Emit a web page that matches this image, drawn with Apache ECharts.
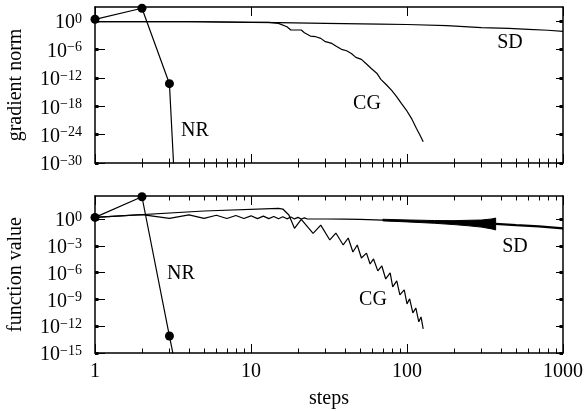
<!DOCTYPE html>
<html><head><meta charset="utf-8">
<script src="https://cdn.jsdelivr.net/npm/echarts@6/dist/echarts.min.js"></script>
<style>html,body{margin:0;padding:0;background:#fff}#c{width:585px;height:411px}</style>
</head><body><div id="c"></div>
<script>
// ---------- tick values ----------
const xMajorTicks = [1, 10, 100, 1000];
const xMinorTicks = [2,3,4,5,6,7,8,9,20,30,40,50,60,70,80,90,200,300,400,500,600,700,800,900];
const gradTicks = [1e-30, 1e-24, 1e-18, 1e-12, 1e-6, 1];
const funcTicks = [1e-15, 1e-12, 1e-9, 1e-6, 1e-3, 1];
const gradRange = [1e-30, 1e3];
const funcRange = [1e-15, 400];

// ---------- Newton-Raphson ----------
const nrSteps = [1, 2, 3, 4];
const nrGrad = [2.5, 540, 6e-14, 1e-93];
const nrFunc = [1.6, 330, 8e-14, 1e-24];

// ---------- steepest descent, gradient norm ----------
const sdGradSteps = [1, 2, 4, 7, 10, 15, 30, 67, 100, 180, 300, 450, 600, 800, 1000];
const sdGrad = [0.79, 0.79, 0.77, 0.66, 0.58, 0.5, 0.36, 0.25, 0.2, 0.11, 0.045, 0.03, 0.019, 0.012, 0.0071];

// ---------- conjugate gradient, gradient norm ----------
const cgGradSteps = [1, 5, 10, 13, 15, 17, 18, 21, 22, 24, 26, 28, 30, 33, 35, 38, 41, 44, 47, 51, 55, 59, 64, 68, 74, 80, 86, 92, 99, 107, 115, 121, 127];
const cgGrad = [0.79, 0.75, 0.6, 0.55, 0.35, 0.068, 0.0135, 0.0135, 3.7e-3, 7.2e-4, 5.2e-4, 2.3e-4, 4.6e-5, 2.0e-5, 5.5e-6, 1.1e-6, 5.6e-7, 1.5e-7, 2.2e-8, 8.3e-9, 8.5e-10, 1.0e-10, 1e-11, 5e-13, 3.2e-14, 2e-15, 1e-16, 4e-18, 1.6e-19, 2.5e-21, 2e-23, 8e-25, 3.2e-26];

// ---------- steepest descent, function value ----------
const sdFuncSteps = [1,2,3,4,5,6,7,8,9,10,11,12,13,14,15,16,17,18,19,20,21,22,23,30,40,50,70];
const sdFunc = [1.6,3.2,1.25,3.0,1.25,2.8,1.2,2.6,1.2,2.4,1.15,2.2,1.15,2.0,1.12,1.9,1.1,1.8,1.08,1.6,1.06,1.4,1.05,1.05,1.02,0.95,0.8];
const sdBandSteps = [70, 100, 150, 200, 250, 300, 350, 370];
const sdBandUpper = [0.98, 0.83, 0.71, 0.69, 0.76, 0.81, 1.08, 1.36];
const sdBandLower = [0.65, 0.5, 0.35, 0.25, 0.18, 0.13, 0.082, 0.062];
const sdTailSteps = [370, 380, 500, 700, 1000];
const sdTail = [0.3, 0.27, 0.22, 0.16, 0.095];

// ---------- conjugate gradient, function value ----------
const cgFuncSteps = [1, 5, 15, 16, 17.5, 19, 21, 25, 28, 32, 35, 39, 42, 45, 48, 51, 55, 58, 61, 65, 69, 73, 78, 81, 86, 90, 96, 100, 104, 109, 114, 119, 123, 127];
const cgFunc = [1.6, 8.3, 16.6, 13.8, 3.0, 0.095, 0.98, 0.026, 0.22, 4.7e-3, 2.8e-2, 1.3e-3, 7.8e-3, 2.1e-4, 1.3e-3, 4.5e-5, 1.6e-4, 9.6e-6, 3.5e-5, 1.6e-6, 5.7e-6, 2.0e-7, 9.5e-7, 2.6e-8, 1.2e-7, 3.3e-9, 1.2e-8, 3.2e-10, 1.2e-9, 3.1e-11, 1.1e-10, 3.1e-12, 1.1e-11, 5e-13];

// ---------- labels ----------
const curveLabels = [
  {text: 'NR', x: 195, y: 131}, {text: 'CG', x: 367, y: 104}, {text: 'SD', x: 510, y: 43},
  {text: 'NR', x: 181, y: 274}, {text: 'CG', x: 373, y: 300}, {text: 'SD', x: 515, y: 247}
];

const FONT = '"Liberation Serif", "DejaVu Serif", "Times New Roman", serif';
const BLACK = '#000';
const pair = (xs, ys) => xs.map((x, i) => [x, ys[i]]);

function powLabel(v) {
  const e = Math.round(Math.log10(v));
  return '10{s|' + (e < 0 ? '\u2212' + (-e) : String(e)) + '}';
}

function xAxisSet(g, labels) {
  const base = {type: 'log', logBase: 10, min: 1, max: 1000, gridIndex: g,
    splitLine: {show: false}, minorTick: {show: false}, minorSplitLine: {show: false},
    axisLine: {show: false}, axisLabel: {show: false}, axisTick: {show: false}};
  const line = {show: true, onZero: false, lineStyle: {color: BLACK, width: 1.5}};
  const major = {show: true, inside: true, length: 9, customValues: xMajorTicks, lineStyle: {color: BLACK, width: 1}};
  const minor = {show: true, inside: true, length: 4.5, customValues: xMinorTicks, lineStyle: {color: BLACK, width: 1}};
  return [
    Object.assign({}, base, {position: 'bottom', axisLine: line, axisTick: major,
      axisLabel: {show: labels, customValues: xMajorTicks, interval: 0, margin: 9, color: BLACK, fontSize: 20, fontFamily: FONT,
        showMinLabel: true, showMaxLabel: true, hideOverlap: false,
        formatter: v => String(Math.round(v))},
      name: labels ? 'steps' : '', nameLocation: 'middle', nameGap: 36,
      nameTextStyle: {color: BLACK, fontSize: 20, fontFamily: FONT}}),
    Object.assign({}, base, {position: 'bottom', axisTick: minor}),
    Object.assign({}, base, {position: 'top', axisLine: line, axisTick: major}),
    Object.assign({}, base, {position: 'top', axisTick: minor})
  ];
}

function yAxisSet(g, range, ticks, name) {
  const base = {type: 'log', logBase: 10, min: range[0], max: range[1], gridIndex: g,
    splitLine: {show: false}, minorTick: {show: false}, minorSplitLine: {show: false},
    axisLine: {show: false}, axisLabel: {show: false}, axisTick: {show: false}};
  const line = {show: true, onZero: false, lineStyle: {color: BLACK, width: 1.5}};
  return [
    Object.assign({}, base, {position: 'left', axisLine: line,
      axisTick: {show: true, inside: true, length: 10, customValues: ticks, interval: 0, lineStyle: {color: BLACK, width: 1}},
      axisLabel: {show: true, customValues: ticks, interval: 0, margin: 13, color: BLACK, fontSize: 20, fontFamily: FONT,
        showMinLabel: true, showMaxLabel: true, hideOverlap: false,
        lineHeight: 22, padding: [4, 0, 0, 0], formatter: powLabel,
        rich: {s: {fontSize: 14, lineHeight: 14, verticalAlign: 'top', fontFamily: FONT, color: BLACK}}},
      name: name, nameLocation: 'middle', nameGap: 69, nameRotate: 90,
      nameTextStyle: {color: BLACK, fontSize: 20, fontFamily: FONT}}),
    Object.assign({}, base, {position: 'left',
      axisTick: {show: true, inside: true, length: 3.5, customValues: ticks, interval: 0, lineStyle: {color: BLACK, width: 3}}}),
    Object.assign({}, base, {position: 'right', axisLine: line,
      axisTick: {show: true, inside: true, length: 7, customValues: ticks, interval: 0, lineStyle: {color: BLACK, width: 1}}}),
    Object.assign({}, base, {position: 'right',
      axisTick: {show: true, inside: true, length: 3.5, customValues: ticks, interval: 0, lineStyle: {color: BLACK, width: 3}}})
  ];
}

function lineSeries(xi, data, extra) {
  return Object.assign({type: 'line', xAxisIndex: xi, yAxisIndex: xi, data: data,
    symbol: 'none', showSymbol: false, clip: true, silent: true,
    lineStyle: {color: BLACK, width: 1.2}, itemStyle: {color: BLACK}}, extra || {});
}

const nrExtra = {symbol: 'circle', showSymbol: true, symbolSize: 9, itemStyle: {color: BLACK}};

const option = {
  animation: false,
  backgroundColor: '#fff',
  grid: [
    {left: 95, top: 7, width: 468, height: 156, outerBoundsMode: 'none', containLabel: false},
    {left: 95, top: 196, width: 468, height: 157, outerBoundsMode: 'none', containLabel: false}
  ],
  xAxis: xAxisSet(0, false).concat(xAxisSet(1, true)),
  yAxis: yAxisSet(0, gradRange, gradTicks, 'gradient norm').concat(yAxisSet(1, funcRange, funcTicks, 'function value')),
  series: [
    lineSeries(0, pair(sdGradSteps, sdGrad)),
    lineSeries(0, pair(cgGradSteps, cgGrad)),
    lineSeries(0, pair(nrSteps, nrGrad), nrExtra),
    lineSeries(4, pair(sdFuncSteps, sdFunc)),
    {
      type: 'custom', xAxisIndex: 4, yAxisIndex: 4, coordinateSystem: 'cartesian2d', clip: true, silent: true,
      data: [[sdBandSteps[0], sdBandUpper[0]]],
      renderItem: function (params, api) {
        const pts = [];
        sdBandSteps.forEach((s, i) => pts.push(api.coord([s, sdBandUpper[i]])));
        for (let i = sdBandSteps.length - 1; i >= 0; i--) pts.push(api.coord([sdBandSteps[i], sdBandLower[i]]));
        return {type: 'polygon', shape: {points: pts}, style: {fill: BLACK, stroke: BLACK, lineWidth: 1}};
      }
    },
    lineSeries(4, pair(sdTailSteps, sdTail), {lineStyle: {color: BLACK, width: 2.2}}),
    lineSeries(4, pair(cgFuncSteps, cgFunc)),
    lineSeries(4, pair(nrSteps, nrFunc), nrExtra)
  ],
  graphic: curveLabels.map(l => ({
    type: 'text', x: l.x, y: l.y, silent: true,
    style: {text: l.text, align: 'center', verticalAlign: 'middle', textAlign: 'center', textVerticalAlign: 'middle',
      fontSize: 20, fontFamily: FONT, fill: BLACK}
  }))
};

const chart = echarts.init(document.getElementById('c'), null, {renderer: 'canvas'});
chart.setOption(option);
</script></body></html>
